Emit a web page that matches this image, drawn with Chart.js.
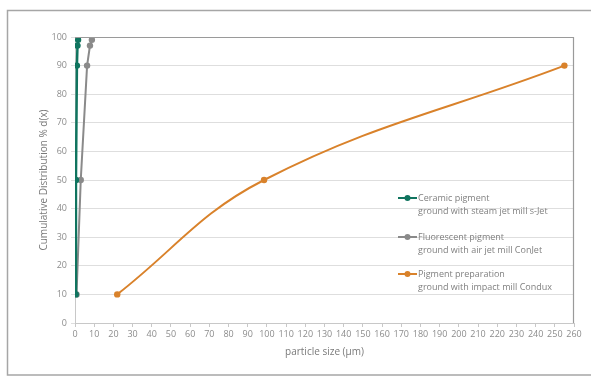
<!DOCTYPE html>
<html><head><meta charset="utf-8">
<script src="https://cdn.jsdelivr.net/npm/chart.js@4/dist/chart.umd.min.js"></script>
<style>html,body{margin:0;padding:0;background:#fff}#wrap{width:591px;height:389px;position:relative}</style>
</head><body><div id="wrap"><canvas id="c" width="591" height="389"></canvas></div>
<script>
const seriesLabels = [
  ["Ceramic pigment", "ground with steam jet mill s-Jet"],
  ["Fluorescent pigment", "ground with air jet mill ConJet"],
  ["Pigment preparation", "ground with impact mill Condux"]
];
const cumulative = [10, 50, 90, 97, 99];
const ceramicSize = [0.4, 0.5, 1.0, 1.3, 1.6];
const fluorescentSize = [0.8, 3.0, 6.3, 7.8, 8.8];
const prepCumulative = [10, 50, 90];
const prepSize = [22, 98.5, 255];
const xTicks = {min: 0, max: 260, step: 10};
const yTicks = {min: 0, max: 100, step: 10};
const colors = ["#10745f", "#8a8a8a", "#d9822b"];

const pts = (xs, ys) => xs.map((x, i) => ({x, y: ys[i]}));

const frame = {
  id: 'frame',
  beforeDraw(chart) {
    const ctx = chart.ctx;
    ctx.save();
    ctx.strokeStyle = '#a6a6a6';
    ctx.lineWidth = 1.5;
    ctx.strokeRect(7.5, 10.5, 600, 364.5);
    ctx.restore();
  },
  afterDatasetsDraw(chart) {
    const ctx = chart.ctx, a = chart.chartArea;
    ctx.save();
    ctx.strokeStyle = '#9a9a9a';
    ctx.lineWidth = 1.2;
    ctx.beginPath();
    ctx.moveTo(a.left, a.top + 0.5);
    ctx.lineTo(a.right - 0.5, a.top + 0.5);
    ctx.lineTo(a.right - 0.5, a.bottom);
    ctx.stroke();
    // legend
    const rows = [198, 237, 274];
    ctx.font = '9px "Open Sans"';
    ctx.textBaseline = 'middle';
    chart.data.datasets.forEach((ds, i) => {
      const y = rows[i];
      ctx.strokeStyle = ds.borderColor;
      ctx.lineWidth = 2;
      ctx.beginPath(); ctx.moveTo(398, y); ctx.lineTo(417, y); ctx.stroke();
      ctx.fillStyle = ds.borderColor;
      ctx.beginPath(); ctx.arc(407.5, y, 3, 0, Math.PI * 2); ctx.fill();
      ctx.fillStyle = '#808080';
      ctx.textAlign = 'left';
      seriesLabels[i].forEach((t, j) => ctx.fillText(t, 418, y + j * 13.5));
    });
    ctx.restore();
  }
};

new Chart(document.getElementById('c'), {
  type: 'scatter',
  data: {
    datasets: [
      {label: seriesLabels[0].join(' '), data: pts(ceramicSize, cumulative), borderColor: colors[0], backgroundColor: colors[0], showLine: true, borderWidth: 2.5, pointRadius: 3.2, pointBorderWidth: 0, tension: 0, order: 0},
      {label: seriesLabels[1].join(' '), data: pts(fluorescentSize, cumulative), borderColor: colors[1], backgroundColor: colors[1], showLine: true, borderWidth: 2, pointRadius: 3.2, pointBorderWidth: 0, tension: 0, order: 1},
      {label: seriesLabels[2].join(' '), data: pts(prepSize, prepCumulative), borderColor: colors[2], backgroundColor: colors[2], showLine: true, borderWidth: 2, pointRadius: 3.2, pointBorderWidth: 0, tension: 0.4, order: 2}
    ]
  },
  options: {
    responsive: false,
    animation: false,
    layout: {padding: {left: 0, top: 37, right: 17, bottom: 0}},
    plugins: {legend: {display: false}, tooltip: {enabled: false}},
    scales: {
      x: {
        type: 'linear', min: xTicks.min, max: xTicks.max,
        ticks: {stepSize: xTicks.step, color: '#8c8c8c', font: {family: 'Open Sans', size: 9}, padding: 2, maxRotation: 0, autoSkip: false},
        grid: {drawOnChartArea: false, color: '#c8c8c8', tickLength: 4},
        border: {color: '#c8c8c8'},
        title: {display: true, text: 'particle size (µm)', color: '#7a7a7a', font: {family: 'Open Sans', size: 10}, padding: {top: 0, bottom: 31}},
        afterFit(s) { s.height = 66; }
      },
      y: {
        type: 'linear', min: yTicks.min, max: yTicks.max,
        ticks: {stepSize: yTicks.step, color: '#8c8c8c', font: {family: 'Open Sans', size: 9}, padding: 4},
        grid: {color: '#dedede', tickLength: 4},
        border: {color: '#c8c8c8'},
        title: {display: true, text: 'Cumulative Distribution % d(x)', color: '#7a7a7a', font: {family: 'Open Sans', size: 10}, padding: {top: 38, bottom: 0}},
        afterFit(s) { s.width = 75; }
      }
    }
  },
  plugins: [frame]
});
</script></body></html>
